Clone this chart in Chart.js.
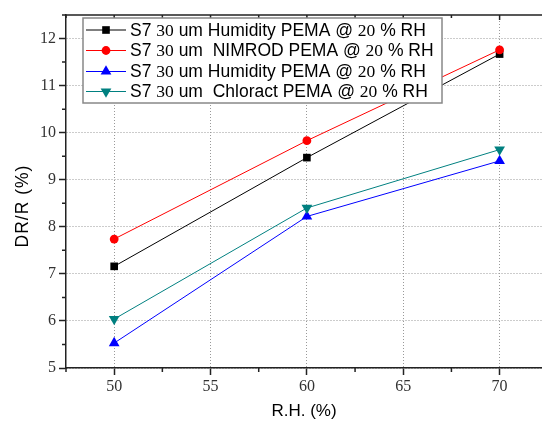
<!DOCTYPE html>
<html><head><meta charset="utf-8">
<script src="https://cdn.jsdelivr.net/npm/chart.js@4/dist/chart.umd.min.js"></script>
<style>html,body{margin:0;padding:0;background:#fff}#wrap{width:542px;height:424px}</style>
</head><body><div id="wrap"><canvas id="c" width="542" height="424"></canvas></div>
<script>
const rhValues = [50, 60, 70];
const seriesLabels = [
  'S7 30 um Humidity PEMA @ 20 % RH',
  'S7 30 um  NIMROD PEMA @ 20 % RH',
  'S7 30 um Humidity PEMA @ 20 % RH',
  'S7 30 um  Chloract PEMA @ 20 % RH'
];
const humidityBlack = [7.16, 9.47, 11.67];
const nimrodRed = [7.74, 9.83, 11.76];
const humidityBlue = [5.53, 8.22, 9.40];
const chloractTeal = [6.04, 8.40, 9.64];
const xTickValues = [50, 55, 60, 65, 70];
const yTickValues = [5, 6, 7, 8, 9, 10, 11, 12];
const xMinorTicks = [47.5, 52.5, 57.5, 62.5, 67.5, 72.5];
const yMinorTicks = [5.5, 6.5, 7.5, 8.5, 9.5, 10.5, 11.5, 12.5];
const yTitle = 'DR/R (%)';
const xTitle = 'R.H. (%)';

const seriesValues = [humidityBlack, nimrodRed, humidityBlue, chloractTeal];
const colors = ['#000000', '#ff0000', '#0000ff', '#008080'];
const styles = [
  {pointStyle: 'rect', radius: 5.4, rotation: 0},
  {pointStyle: 'circle', radius: 4.4, rotation: 0},
  {pointStyle: 'triangle', radius: 6.2, rotation: 0},
  {pointStyle: 'triangle', radius: 6.2, rotation: 180}
];

const datasets = seriesValues.map((vals, i) => ({
  label: seriesLabels[i],
  data: vals.map((v, j) => ({x: rhValues[j], y: v})),
  borderColor: colors[i],
  backgroundColor: colors[i],
  borderWidth: 1,
  pointStyle: styles[i].pointStyle,
  pointRadius: styles[i].radius,
  pointRotation: styles[i].rotation,
  pointBorderWidth: 0,
  order: 4 - i,
  tension: 0
}));

function drawMixed(ctx, text, x, y) {
  const parts = text.split(/(\b\d+\b)/);
  parts.forEach(p => {
    if (!p) return;
    const serif = /^\d+$/.test(p);
    ctx.font = serif ? '17.5px "Liberation Serif"' : '17.5px "Liberation Sans"';
    ctx.fillText(p, x, y);
    x += ctx.measureText(p).width;
  });
}

const extras = {
  id: 'extras',
  afterDraw(chart) {
    const ctx = chart.ctx;
    const xs = chart.scales.x, ys = chart.scales.y;
    const ca = chart.chartArea;
    ctx.save();
    ctx.strokeStyle = '#222';
    ctx.lineWidth = 1.5;
    ctx.beginPath();
    xMinorTicks.forEach(v => {
      const px = xs.getPixelForValue(v);
      if (px < ca.left - 0.5 || px > ca.right + 0.5) return;
      ctx.moveTo(px, ca.bottom); ctx.lineTo(px, ca.bottom + 4);
      ctx.moveTo(px, ca.top); ctx.lineTo(px, ca.top + 3);
    });
    xTickValues.forEach(v => {
      const px = xs.getPixelForValue(v);
      ctx.moveTo(px, ca.top); ctx.lineTo(px, ca.top + 5);
    });
    yMinorTicks.forEach(v => {
      const py = ys.getPixelForValue(v);
      ctx.moveTo(ca.left - 4, py); ctx.lineTo(ca.left, py);
    });
    ctx.moveTo(ca.left, ca.top); ctx.lineTo(ca.right, ca.top);
    ctx.stroke();

    // y title
    ctx.save();
    ctx.translate(28, 206);
    ctx.rotate(-Math.PI / 2);
    ctx.font = '17.5px "Liberation Sans"';
    try { ctx.letterSpacing = '1px'; } catch (e) {}
    ctx.fillStyle = '#000';
    ctx.textAlign = 'center';
    ctx.textBaseline = 'alphabetic';
    ctx.fillText(yTitle, 0, 0);
    ctx.restore();

    // legend
    const bx = 83, by = 18, bw = 359, bh = 85;
    ctx.fillStyle = '#fff';
    ctx.fillRect(bx, by, bw, bh);
    ctx.strokeStyle = '#888';
    ctx.lineWidth = 1.5;
    ctx.strokeRect(bx, by, bw, bh);
    const rows = [30, 50.5, 71.5, 91.5];
    datasets.forEach((ds, i) => {
      const y = rows[i];
      ctx.strokeStyle = colors[i];
      ctx.lineWidth = 1;
      ctx.beginPath(); ctx.moveTo(86, y); ctx.lineTo(126, y); ctx.stroke();
      ctx.fillStyle = colors[i];
      Chart.helpers.drawPoint(ctx, {pointStyle: styles[i].pointStyle, radius: styles[i].radius, rotation: styles[i].rotation, borderWidth: 0}, 106, y);
      ctx.fillStyle = '#000';
      ctx.textBaseline = 'middle';
      ctx.textAlign = 'left';
      drawMixed(ctx, ds.label, 130, y + 1);
    });
    ctx.restore();
  }
};

new Chart(document.getElementById('c'), {
  type: 'line',
  data: {datasets},
  options: {
    responsive: false,
    devicePixelRatio: 1,
    animation: false,
    layout: {autoPadding: false, padding: {top: 15, right: 0, left: 0, bottom: 0}},
    plugins: {legend: {display: false}, tooltip: {enabled: false}},
    scales: {
      x: {
        type: 'linear', min: 47.5, max: 72.2,
        afterBuildTicks: s => { s.ticks = xTickValues.map(v => ({value: v})); },
        afterFit: s => { s.height = 56; s.paddingRight = 0; s.paddingLeft = 0; },
        grid: {color: '#999', tickColor: '#222', tickLength: 7, tickWidth: 1.5},
        border: {color: '#222', width: 1.5, dash: [1, 2]},
        ticks: {font: {family: 'Liberation Serif', size: 16}, color: '#333', padding: 2, maxRotation: 0},
        title: {display: true, text: xTitle, font: {family: 'Liberation Sans', size: 17, lineHeight: 1.2}, color: '#000', padding: {top: 0, bottom: 2}}
      },
      y: {
        type: 'linear', min: 5, max: 12.5,
        afterBuildTicks: s => { s.ticks = yTickValues.map(v => ({value: v})); },
        afterFit: s => { s.width = 66; s.paddingTop = 0; s.paddingBottom = 0; s.paddingRight = 0; s.paddingLeft = 0; },
        grid: {color: '#999', tickColor: '#222', tickLength: 7, tickWidth: 1.5},
        border: {color: '#222', width: 1.5, dash: [1, 2]},
        ticks: {font: {family: 'Liberation Serif', size: 16}, color: '#333', padding: 3},
        title: {display: false}
      }
    }
  },
  plugins: [extras]
});
</script></body></html>
